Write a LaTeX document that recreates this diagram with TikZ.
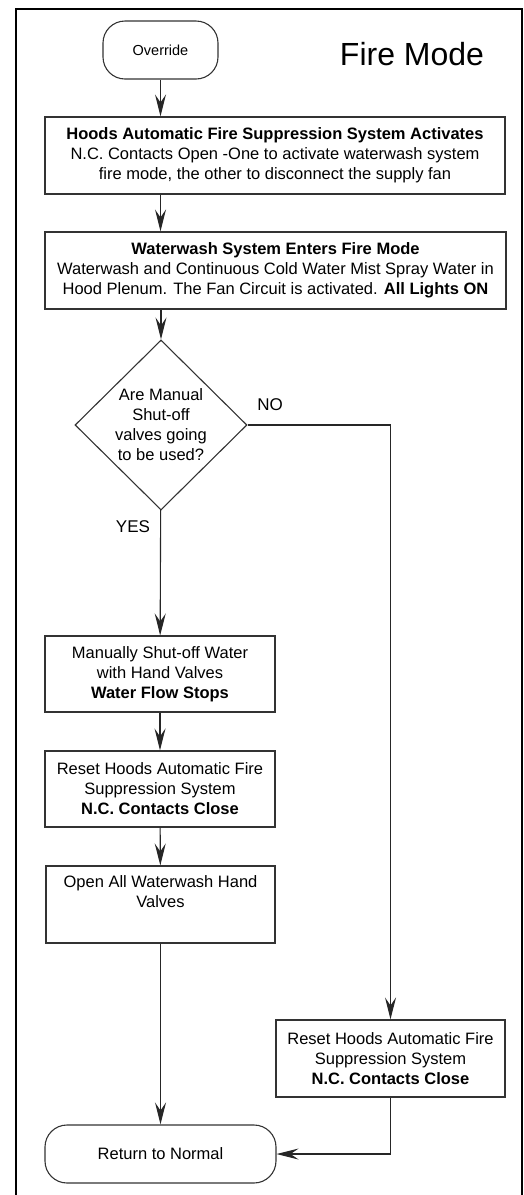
\documentclass[tikz,border=0pt]{standalone}
\usepackage{fontspec}
\setmainfont{Liberation Sans}
\usetikzlibrary{arrows.meta}
\usetikzlibrary{shapes.geometric}

\begin{document}
\begin{tikzpicture}[x=1pt,y=-1pt,
  box/.style={draw=black!80,line width=1.1pt,align=center,inner sep=1pt,font=\fontsize{16.5}{20}\selectfont},
  term/.style={box,rounded corners=22pt},
  flow/.style={draw=black!85,line width=1.1pt,-{Stealth[length=22pt,width=11pt,inset=8pt]}},
  tag/.style={font=\fontsize{17}{20}\selectfont}]
\useasboundingbox (0,0) rectangle (524,1195);
% outer frame
\draw[line width=2pt] (16,1195) -- (16,9) -- (522,9) -- (522,1195);
\node[font=\fontsize{32}{36}\selectfont] (title) at (412,54) {Fire Mode};

% main column
\node[term,minimum width=115,minimum height=58,font=\fontsize{14.5}{18}\selectfont] (over) at (160.5,50) {Override};
\node[box,minimum width=460,minimum height=77] (hood) at (275,155.5)
  {\textbf{Hoods Automatic Fire Suppression System Activates}\\
   N.C. Contacts Open -One to activate waterwash system\\
   fire mode, the other to disconnect the supply fan};
\node[box,minimum width=461,minimum height=77] (wash) at (275.5,270.5)
  {\textbf{Waterwash System Enters Fire Mode}\\
   Waterwash and Continuous Cold Water Mist Spray Water in\\
   Hood Plenum. The Fan Circuit is activated. \textbf{All Lights ON}};
\node[box,diamond,aspect=1,inner sep=0pt,minimum width=172,minimum height=170] (ask) at (161,425)
  {Are Manual\\Shut-off\\valves going\\to be used?};
\node[box,minimum width=230,minimum height=76] (manual) at (160,674)
  {Manually Shut-off Water\\with Hand Valves\\\textbf{Water Flow Stops}};
\node[box,minimum width=230,minimum height=76] (resetA) at (160,789)
  {Reset Hoods Automatic Fire\\Suppression System\\\textbf{N.C. Contacts Close}};
\node[box,minimum width=229,minimum height=77] (open) at (160.5,904.5)
  {Open All Waterwash Hand\\Valves\\\strut};
\node[term,minimum width=231,minimum height=58] (ret) at (160.5,1154) {Return to Normal};

% right branch
\node[box,minimum width=229,minimum height=77] (resetB) at (390.5,1058.5)
  {Reset Hoods Automatic Fire\\Suppression System\\\textbf{N.C. Contacts Close}};

\node[tag] (no) at (270,405) {NO};
\node[tag] (yes) at (133,527) {YES};

% connectors
\draw[flow] (over) -- (hood.north -| over);
\draw[flow] (hood.south -| over) -- (wash.north -| over);
\draw[flow] (wash.south -| ask) -- (ask);
\draw[flow] (ask) -- (manual);
\draw[flow] (manual) -- (resetA);
\draw[flow] (resetA) -- (open);
\draw[flow] (open) -- (ret);
\draw[flow] (ask.east) -| (resetB.north);
\draw[flow] (resetB.south) |- (ret.east);
\end{tikzpicture}
\end{document}
